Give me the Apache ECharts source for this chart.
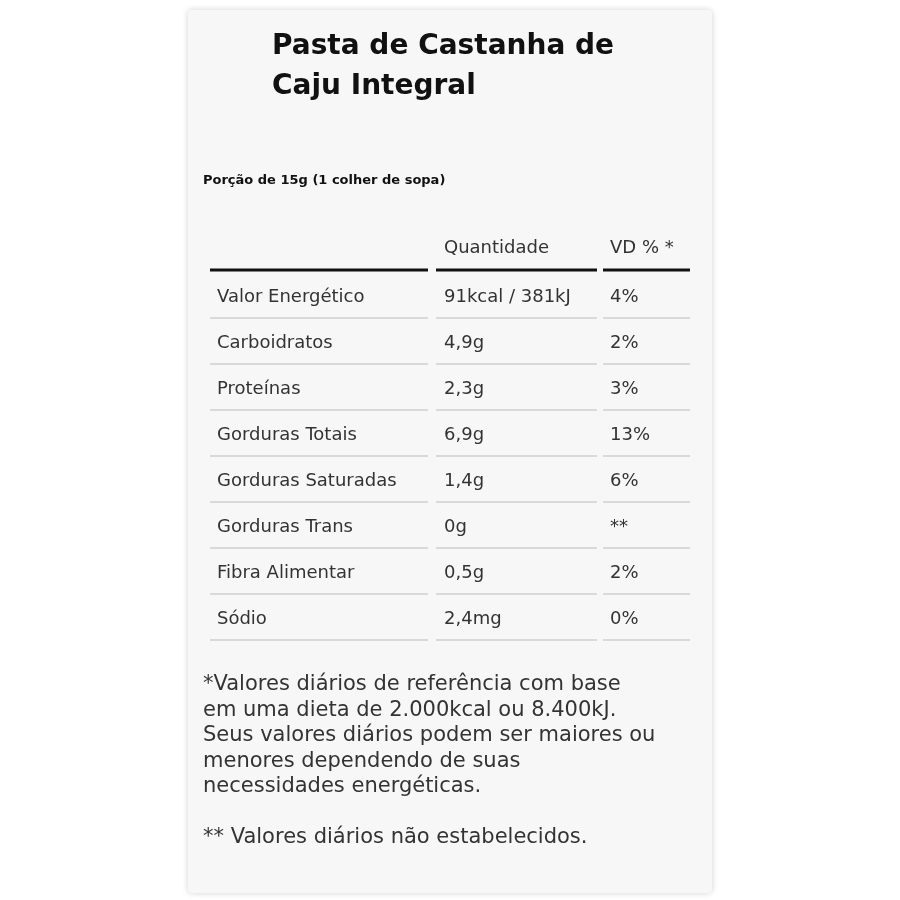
<!DOCTYPE html>
<html><head><meta charset="utf-8">
<script src="https://cdn.jsdelivr.net/npm/echarts@6/dist/echarts.min.js"></script>
<style>html,body{margin:0;background:#fff}#c{width:900px;height:900px}</style></head>
<body><div id="c"></div>
<script>
const titleLines = ['Pasta de Castanha de', 'Caju Integral'];
const portion = 'Porção de 15g (1 colher de sopa)';
const headers = ['', 'Quantidade', 'VD % *'];
const nutrients = ['Valor Energético','Carboidratos','Proteínas','Gorduras Totais','Gorduras Saturadas','Gorduras Trans','Fibra Alimentar','Sódio'];
const quantities = ['91kcal / 381kJ','4,9g','2,3g','6,9g','1,4g','0g','0,5g','2,4mg'];
const vd = ['4%','2%','3%','13%','6%','**','2%','0%'];
const footnotes = ['*Valores diários de referência com base','em uma dieta de 2.000kcal ou 8.400kJ.','Seus valores diários podem ser maiores ou','menores dependendo de suas','necessidades energéticas.','','** Valores diários não estabelecidos.'];

const colX = [217, 444, 610];
const colSeg = [[210,428],[436,597],[603,690]];
const FONT = '"DejaVu Sans", sans-serif';
const chart = echarts.init(document.getElementById('c'));
const data = nutrients.map((n,i)=>[0,i]);
const graphics = [
  {type:'rect', shape:{x:188,y:10,width:524,height:883,r:4}, style:{fill:'#f7f7f7', shadowBlur:6, shadowColor:'rgba(0,0,0,0.18)'}},
];
titleLines.forEach((t,i)=>graphics.push({type:'text', x:272, y:47+i*40, style:{text:t, font:'bold 28px '+FONT, fill:'#111', verticalAlign:'middle'}}));
graphics.push({type:'text', x:203, y:181, style:{text:portion, font:'bold 13px '+FONT, fill:'#111', verticalAlign:'middle'}});
headers.forEach((h,i)=>graphics.push({type:'text', x:colX[i], y:248, style:{text:h, font:'18px '+FONT, fill:'#333', verticalAlign:'middle'}}));
colSeg.forEach(s=>graphics.push({type:'line', shape:{x1:s[0],y1:270,x2:s[1],y2:270}, style:{stroke:'#111', lineWidth:3}}));
footnotes.forEach((t,i)=>graphics.push({type:'text', x:203, y:685+i*25.5, style:{text:t, font:'21px '+FONT, fill:'#333', verticalAlign:'middle'}}));

chart.setOption({
  animation:false,
  graphic: graphics,
  grid:{left:0, right:0, top:274, height:368},
  xAxis:{type:'value', min:0, max:900, show:false},
  yAxis:{type:'category', data:nutrients, inverse:true, show:false},
  series:[{
    type:'custom', data:data, z:10,
    renderItem:function(params, api){
      const i = api.value(1);
      const p = api.coord([0,i]);
      const h = api.size([0,1])[1];
      const yc = p[1], yb = yc + h/2 - 2;
      const vals = [nutrients[i], quantities[i], vd[i]];
      const children = [];
      vals.forEach((v,k)=>children.push({type:'text', x:colX[k], y:yc, style:{text:v, font:'18px '+FONT, fill:'#333', verticalAlign:'middle'}}));
      colSeg.forEach(s=>children.push({type:'line', shape:{x1:s[0],y1:yb,x2:s[1],y2:yb}, style:{stroke:'#cfcfcf', lineWidth:1.5}}));
      return {type:'group', children};
    }
  }]
});
</script></body></html>
